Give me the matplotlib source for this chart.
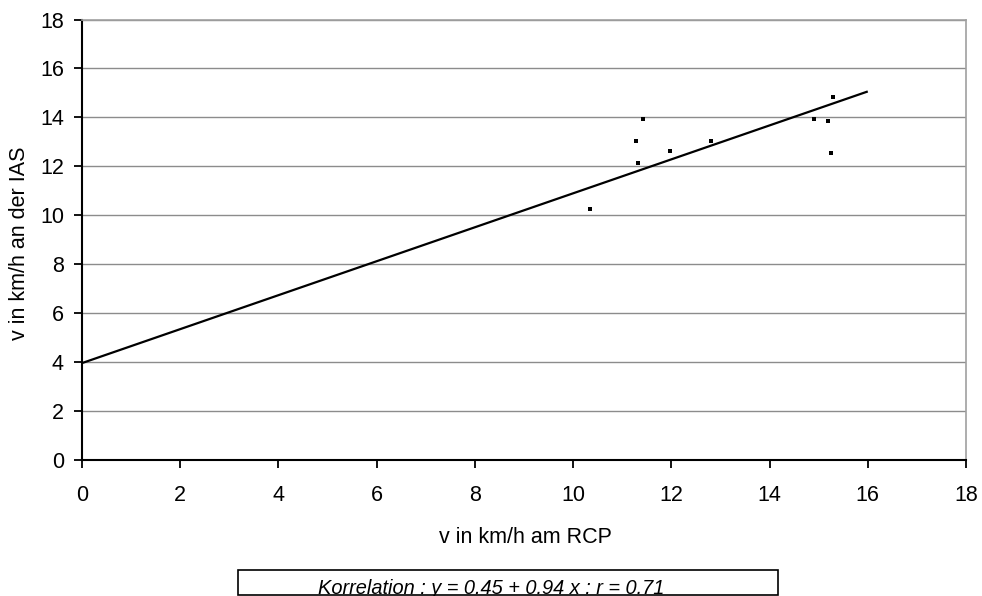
import matplotlib
matplotlib.use("Agg")
import matplotlib.pyplot as plt
from matplotlib.patches import Rectangle

plt.rcParams['font.family'] = ['Liberation Sans', 'DejaVu Sans']

# Data
x_vals = [15.30, 11.42, 14.90, 15.18, 11.28, 12.81, 11.97, 15.25, 11.32, 10.35]
y_vals = [14.83, 13.92, 13.92, 13.84, 13.02, 13.02, 12.61, 12.54, 12.12, 10.24]
trend_x = [0, 16]
trend_y = [3.96, 15.06]
ticks = [0, 2, 4, 6, 8, 10, 12, 14, 16, 18]
x_label = "v in km/h am RCP"
y_label = "v in km/h an der IAS"
legend_text = "Korrelation : y = 0.45 + 0.94 x : r = 0.71"

W, H = 982, 596
fig = plt.figure(figsize=(W / 100, H / 100), dpi=100)
left, right, top, bottom = 82, 966, 19.5, 460
ax = fig.add_axes([left / W, 1 - bottom / H, (right - left) / W, (bottom - top) / H])

ax.set_xlim(0, 18)
ax.set_ylim(0, 18)
ax.set_xticks(ticks)
ax.set_yticks(ticks)
ax.set_xticklabels([str(t) for t in ticks])
ax.set_yticklabels([str(t) for t in ticks])

for yt in ticks[1:]:
    ax.axhline(yt, color='#8c8c8c', lw=1.0, zorder=1)

ax.plot(trend_x, trend_y, color='black', lw=1.6, zorder=3, solid_capstyle='butt')
ax.scatter(x_vals, y_vals, s=7, color='black', marker='s', linewidths=0, zorder=4)

for side in ['top', 'right']:
    ax.spines[side].set_color('#a0a0a0')
    ax.spines[side].set_linewidth(1.2)
for side in ['left', 'bottom']:
    ax.spines[side].set_color('black')
    ax.spines[side].set_linewidth(1.5)

ax.tick_params(axis='both', direction='out', length=6, width=1.3, color='black',
               labelsize=15.5)
ax.tick_params(axis='y', pad=7)
ax.tick_params(axis='x', pad=12)

# axis labels
fig.text(525 / W, 1 - 543 / H, x_label, ha='center', va='baseline', fontsize=15.5)
fig.text(20 / W, 1 - 243 / H, y_label, ha='center', va='center', rotation=90,
         fontsize=15.5)

# legend-like box at bottom
bx0, bx1, by0, by1 = 238, 778, 570, 595
fig.patches.append(Rectangle((bx0 / W, 1 - by1 / H), (bx1 - bx0) / W, (by1 - by0) / H,
                             transform=fig.transFigure, facecolor='white',
                             edgecolor='black', lw=1.2))
fig.text(491 / W, 1 - 594 / H, legend_text, ha='center', va='baseline',
         fontsize=14.4, style='italic')

fig.savefig("out.png", dpi=100)
